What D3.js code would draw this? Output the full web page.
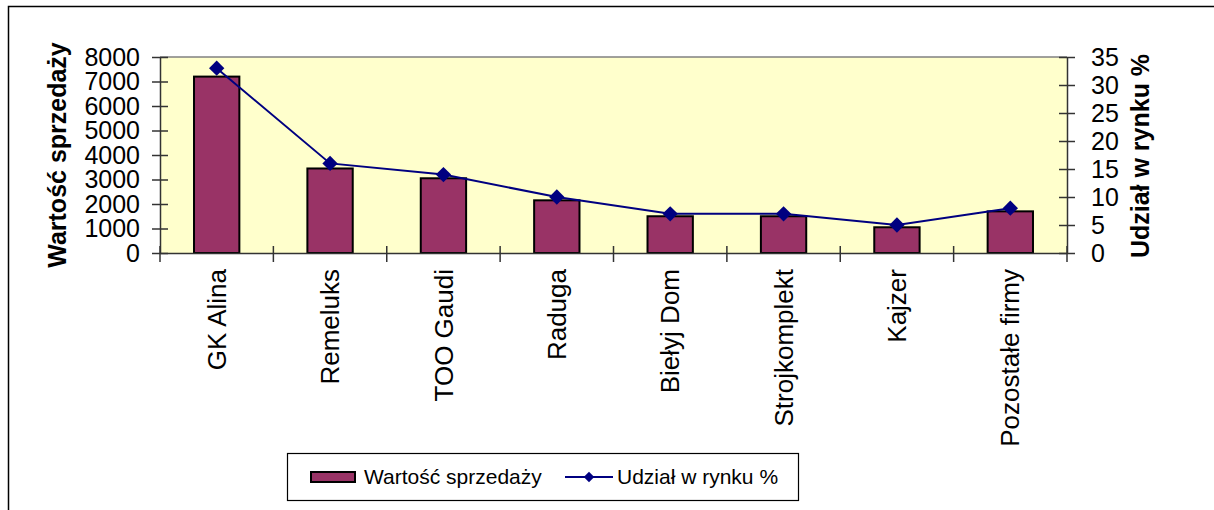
<!DOCTYPE html>
<html>
<head>
<meta charset="utf-8">
<script src="https://cdn.jsdelivr.net/npm/d3@7/dist/d3.min.js"></script>
<style>
  body { margin: 0; background: #fff; }
  text { font-family: "Liberation Sans", Arial, sans-serif; }
</style>
</head>
<body>
<script>
var categories = ["GK Alina", "Remeluks", "TOO Gaudi", "Raduga", "Biełyj Dom", "Strojkomplekt", "Kajzer", "Pozostałe firmy"];
var sales = [7200, 3450, 3050, 2150, 1500, 1500, 1050, 1700];
var share = [33, 16, 14, 10, 7, 7, 5, 8];
var leftTicks = [0, 1000, 2000, 3000, 4000, 5000, 6000, 7000, 8000];
var rightTicks = [0, 5, 10, 15, 20, 25, 30, 35];

var width = 1214;
var height = 510;
var plot = { left: 160, top: 57, right: 1067, bottom: 253 };

var svg = d3.select('body')
    .append('svg')
    .attr('width', width)
    .attr('height', height);

// chart border
svg.append('rect')
    .attr('x', 8.5).attr('y', 6.5)
    .attr('width', width + 10).attr('height', height + 10)
    .attr('fill', 'white').attr('stroke', 'black').attr('stroke-width', 1.5);

var x = d3.scaleBand()
    .domain(categories)
    .range([plot.left, plot.right])
    .paddingInner(0.6).paddingOuter(0.3);

var xBand = d3.scaleBand().domain(categories).range([plot.left, plot.right]);

var yLeft = d3.scaleLinear().domain([0, 8000]).range([plot.bottom, plot.top]);
var yRight = d3.scaleLinear().domain([0, 35]).range([plot.bottom, plot.top]);

// plot background
svg.append('rect')
    .attr('x', plot.left).attr('y', plot.top)
    .attr('width', plot.right - plot.left).attr('height', plot.bottom - plot.top)
    .attr('fill', '#FFFFCC');
svg.append('line')
    .attr('x1', plot.left).attr('x2', plot.right)
    .attr('y1', plot.top).attr('y2', plot.top)
    .attr('stroke', '#808080').attr('stroke-width', 1.5);

// bars
svg.selectAll('rect.bar')
    .data(sales)
    .enter()
    .append('rect')
    .attr('class', 'bar')
    .attr('x', function (d, i) { return x(categories[i]); })
    .attr('y', function (d) { return yLeft(d); })
    .attr('width', x.bandwidth())
    .attr('height', function (d) { return plot.bottom - yLeft(d); })
    .attr('fill', '#993366')
    .attr('stroke', 'black')
    .attr('stroke-width', 2);

// line
var line = d3.line()
    .x(function (d, i) { return xBand(categories[i]) + xBand.bandwidth() / 2; })
    .y(function (d) { return yRight(d); });

svg.append('path')
    .datum(share)
    .attr('d', line)
    .attr('fill', 'none')
    .attr('stroke', '#000080')
    .attr('stroke-width', 2);

var diamond = d3.symbol().type(d3.symbolDiamond2).size(150);
svg.selectAll('path.mark')
    .data(share)
    .enter()
    .append('path')
    .attr('class', 'mark')
    .attr('d', diamond)
    .attr('transform', function (d, i) {
        return 'translate(' + (xBand(categories[i]) + xBand.bandwidth() / 2) + ',' + yRight(d) + ')';
    })
    .attr('fill', '#000080');

// axes
var axisColor = '#333';
var gl = svg.append('g')
    .attr('transform', 'translate(' + plot.left + ',0)')
    .call(d3.axisLeft(yLeft).tickValues(leftTicks).tickFormat(d3.format('d'))
        .tickSize(8).tickPadding(12).tickSizeOuter(0));
gl.selectAll('.tick line').attr('x2', 8).attr('x1', -8);

var gr = svg.append('g')
    .attr('transform', 'translate(' + plot.right + ',0)')
    .call(d3.axisRight(yRight).tickValues(rightTicks).tickFormat(d3.format('d'))
        .tickSize(8).tickPadding(16).tickSizeOuter(0));
gr.selectAll('.tick line').attr('x1', -8).attr('x2', 8);

var gb = svg.append('g')
    .attr('transform', 'translate(0,' + plot.bottom + ')')
    .call(d3.axisBottom(xBand).tickSize(0).tickPadding(0).tickSizeOuter(0));
gb.selectAll('.tick line').remove();

// category separator ticks
svg.selectAll('line.xtick')
    .data(categories.concat(['end']))
    .enter()
    .append('line')
    .attr('class', 'xtick')
    .attr('x1', function (d, i) { return plot.left + i * xBand.bandwidth(); })
    .attr('x2', function (d, i) { return plot.left + i * xBand.bandwidth(); })
    .attr('y1', plot.bottom - 7)
    .attr('y2', plot.bottom + 9)
    .attr('stroke', axisColor)
    .attr('stroke-width', 1.5);

[gl, gr, gb].forEach(function (g) {
    g.selectAll('path.domain').attr('stroke', axisColor).attr('stroke-width', 1.5);
    g.selectAll('.tick line').attr('stroke', axisColor).attr('stroke-width', 1.5);
    g.selectAll('text')
        .attr('font-family', '"Liberation Sans", Arial, sans-serif')
        .attr('font-size', '25px')
        .attr('fill', 'black');
});

gb.selectAll('.tick text')
    .attr('transform', 'rotate(-90)')
    .attr('x', -16)
    .attr('y', 0)
    .attr('dy', '0.35em')
    .attr('font-size', '26px')
    .attr('text-anchor', 'end');

// axis titles
svg.append('text')
    .attr('transform', 'translate(66,' + ((plot.top + plot.bottom) / 2) + ') rotate(-90)')
    .attr('text-anchor', 'middle')
    .attr('font-size', '25px')
    .attr('font-weight', 'bold')
    .text('Wartość sprzedaży');

svg.append('text')
    .attr('transform', 'translate(1149,' + ((plot.top + plot.bottom) / 2 + 1) + ') rotate(-90)')
    .attr('text-anchor', 'middle')
    .attr('font-size', '25px')
    .attr('font-weight', 'bold')
    .text('Udział w rynku %');

// legend
var legend = svg.append('g');
legend.append('rect')
    .attr('x', 287.5).attr('y', 453.5).attr('width', 511).attr('height', 47)
    .attr('fill', 'white').attr('stroke', 'black').attr('stroke-width', 1.2);
legend.append('rect')
    .attr('x', 311).attr('y', 472).attr('width', 44).attr('height', 10)
    .attr('fill', '#993366').attr('stroke', 'black').attr('stroke-width', 2);
legend.append('text')
    .attr('x', 364).attr('y', 484)
    .attr('font-size', '21px')
    .text('Wartość sprzedaży');
legend.append('line')
    .attr('x1', 565).attr('x2', 613).attr('y1', 477).attr('y2', 477)
    .attr('stroke', '#000080').attr('stroke-width', 2);
legend.append('path')
    .attr('d', d3.symbol().type(d3.symbolDiamond2).size(70))
    .attr('transform', 'translate(589,477)')
    .attr('fill', '#000080');
legend.append('text')
    .attr('x', 617).attr('y', 484)
    .attr('font-size', '21px')
    .text('Udział w rynku %');
</script>
</body>
</html>
